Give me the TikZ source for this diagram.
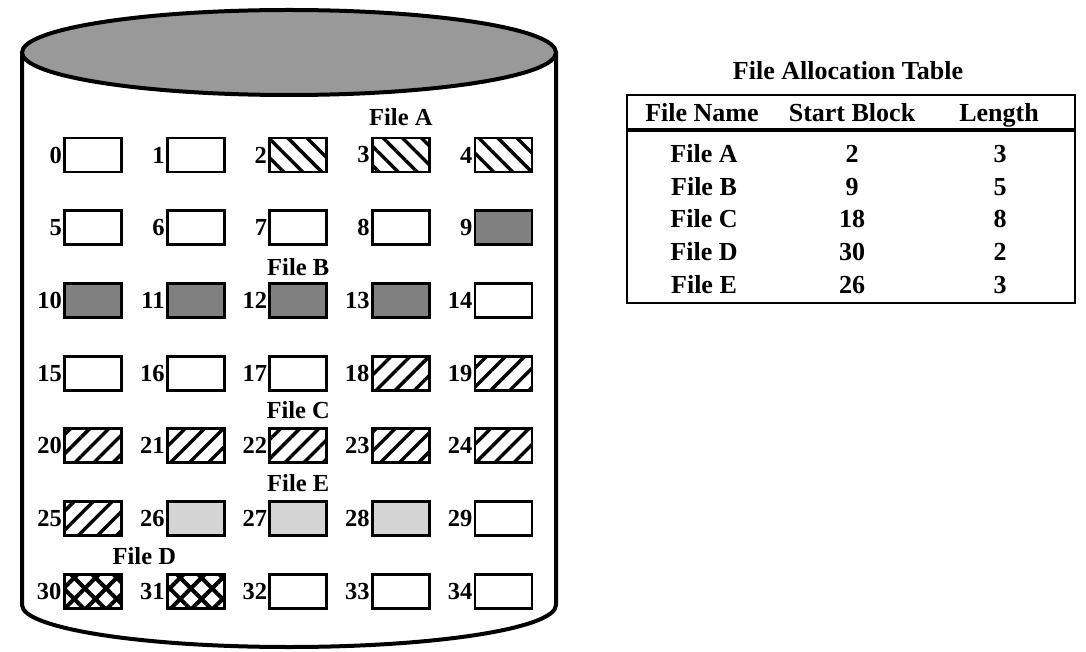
\documentclass[tikz,border=0pt]{standalone}
\usepackage{fontspec}
\setmainfont{Liberation Serif}
\usetikzlibrary{positioning,calc,patterns.meta}
\definecolor{topgray}{RGB}{153,153,153}
\definecolor{darkblk}{RGB}{128,128,128}
\definecolor{lightblk}{RGB}{212,212,212}

\begin{document}
\begin{tikzpicture}[x=1pt, y=-1pt, font=\fontsize{24.5}{24.5}\selectfont\bfseries,
    blk/.style={draw, line width=2.8pt, minimum width=57pt, minimum height=34pt, inner sep=0pt},
    free/.style={blk, fill=white},
    fa/.style={blk, pattern={Lines[angle=-45, distance=13.5pt, line width=3.4pt]}},
    fb/.style={blk, fill=darkblk},
    fc/.style={blk, pattern={Lines[angle=45, distance=13.5pt, line width=3.4pt]}},
    fd/.style={blk, pattern={Hatch[angle=45, distance=15pt, line width=4pt]}},
    fe/.style={blk, fill=lightblk},
    num/.style={anchor=east, inner sep=1pt},
    fname/.style={anchor=base, inner sep=0pt},
    tab/.style={fname, font=\fontsize{26}{26}\selectfont\bfseries}]
    \useasboundingbox (0,0) rectangle (1086,652);

    % Disk
    \draw[line width=4pt] (22,52) -- (22,605)
        arc[start angle=180, end angle=360, x radius=267pt, y radius=42pt] -- (556,52);
    \draw[line width=4pt, fill=topgray] (289,52.5) ellipse[x radius=267pt, y radius=42.5pt];

    % Blocks
    \foreach \n/\s in {0/free,1/free,2/fa,3/fa,4/fa,5/free,6/free,7/free,8/free,9/fb,
        10/fb,11/fb,12/fb,13/fb,14/free,15/free,16/free,17/free,18/fc,19/fc,
        20/fc,21/fc,22/fc,23/fc,24/fc,25/fc,26/fe,27/fe,28/fe,29/free,
        30/fd,31/fd,32/free,33/free,34/free}{
        \pgfmathtruncatemacro\col{mod(\n,5)}
        \pgfmathtruncatemacro\row{\n/5}
        \node[\s] (b\n) at (93+102.6*\col, 155+72.7*\row) {};
        \node[num] (n\n) at (b\n.west) {\n};
    }

    % File labels
    \node[fname] (la) at ([yshift=11pt]b3.north) {File A};
    \node[fname] (lb) at ([yshift=7pt]b12.north) {File B};
    \node[fname] (lc) at ([yshift=9pt]b22.north) {File C};
    \node[fname] (le) at ([yshift=9pt]b27.north) {File E};
    \node[fname] (ld) at ([yshift=8pt]$(b30.north)!0.5!(b31.north)$) {File D};

    % Table
    \node[tab] (title) at (848,80) {File Allocation Table};
    \draw[line width=2.8pt] (627,95) rectangle (1075,303);
    \draw[line width=3.2pt] (627,130) -- (1075,130);
    \node[tab] (hname) at (702,122) {File Name};
    \node[tab] (hstart) at (852,122) {Start Block};
    \node[tab] (hlen) at (999,122) {Length};
    \foreach \f/\s/\l [count=\i from 0] in {A/2/3,B/9/5,C/18/8,D/30/2,E/26/3}{
        \node[tab] (f\f) at (704, 163+32.5*\i) {File \f};
        \node[tab] (s\f) at (852, 163+32.5*\i) {\s};
        \node[tab] (l\f) at (1000, 163+32.5*\i) {\l};
    }
\end{tikzpicture}
\end{document}
